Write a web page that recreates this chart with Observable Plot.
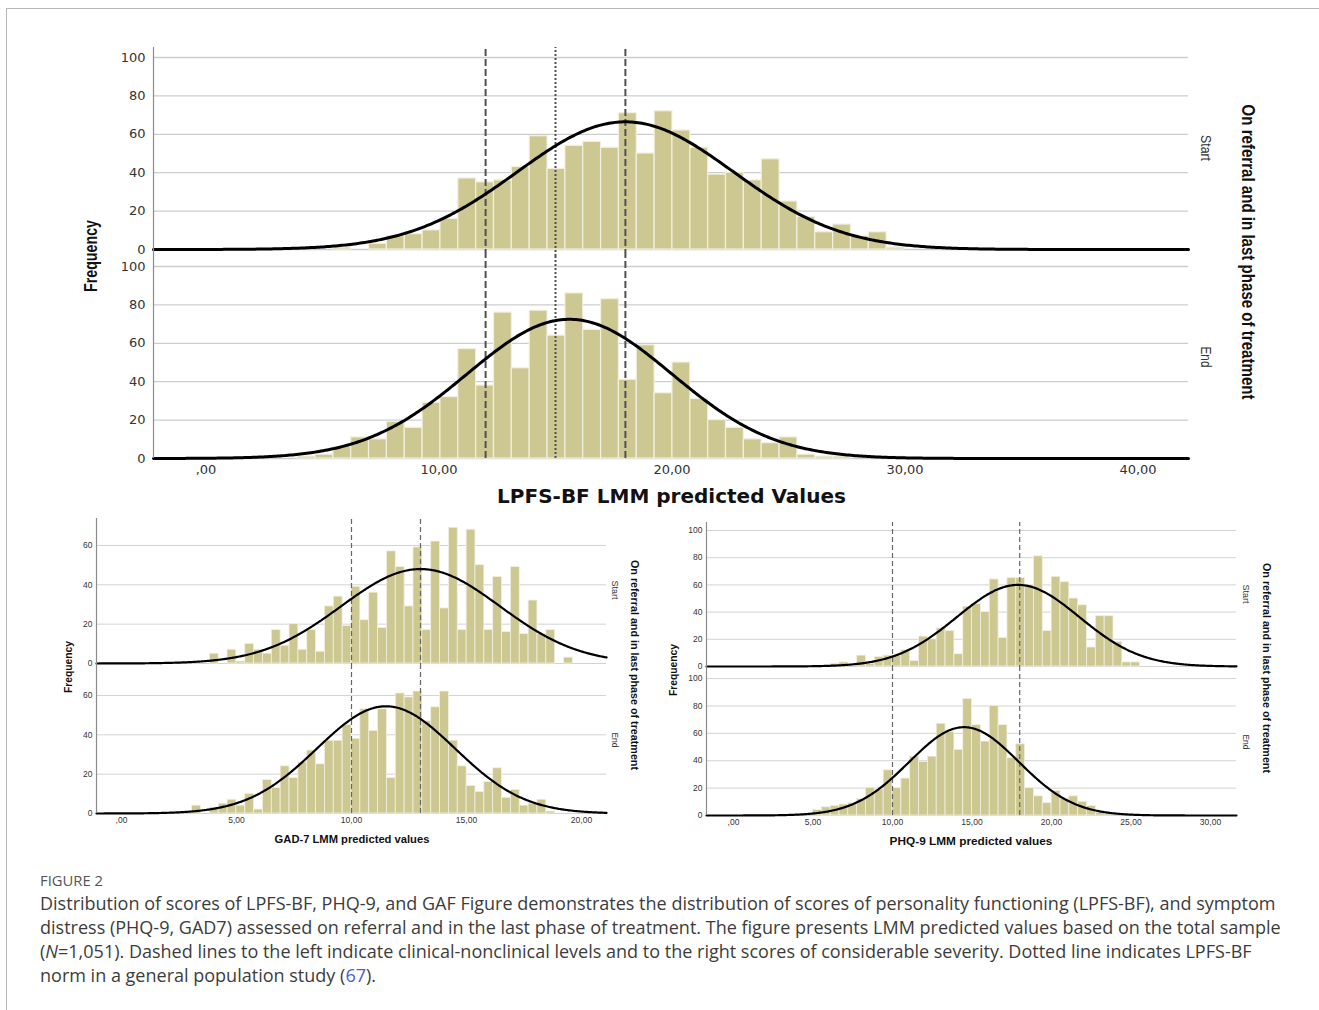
<!DOCTYPE html>
<html>
<head>
<meta charset="utf-8">
<script src="https://cdn.jsdelivr.net/npm/d3@7"></script>
<script src="https://cdn.jsdelivr.net/npm/@observablehq/plot@0.6"></script>
<style>
  body { margin: 0; background: #fff; }
  #root { position: relative; width: 1319px; height: 1010px; overflow: hidden; background: #fff; }
  .frame-top { position: absolute; left: 6px; top: 8px; right: 0; height: 0; border-top: 1px solid #b8b8b8; }
  .frame-left { position: absolute; left: 6px; top: 8px; bottom: 0; width: 0; border-left: 1px solid #b8b8b8; }
  .lbl { position: absolute; white-space: nowrap; line-height: 1; }
  .cap { position: absolute; white-space: nowrap; line-height: 1; }
</style>
</head>
<body>
<div id="root"><div class="frame-top"></div><div class="frame-left"></div></div>
<script>
// ---------------- DATA ----------------
// LPFS-BF histogram (bin counts, equal-width bins)
const lpfsBinStart = 3.934, lpfsBinWidth = 0.766;
const lpfsStart = [0, 0, 1, 0, 3, 7, 8, 10, 16, 37, 35, 36, 43, 59, 42, 54, 56, 53, 71, 50, 72, 62, 53, 39, 40, 36, 47, 25, 17, 9, 13, 7, 9, 1];
const lpfsEnd   = [1, 2, 6, 11, 10, 19, 16, 29, 32, 57, 38, 76, 47, 77, 64, 86, 67, 83, 41, 59, 34, 50, 31, 20, 16, 10, 8, 11, 2, 1, 1, 0, 0, 1];
// GAD-7 histogram
const gadBinStart = 3.07, gadBinWidth = 0.385;
const gadStart = [0, 0, 5, 0, 7, 1, 10, 7, 5, 17, 9, 20, 7, 17, 6, 29, 34, 19, 39, 22, 36, 18, 57, 49, 29, 59, 17, 62, 28, 69, 17, 68, 50, 17, 44, 16, 49, 15, 32, 15, 17, 0, 3];
const gadEnd   = [4, 0, 3, 5, 7, 4, 10, 2, 17, 13, 24, 18, 26, 32, 25, 37, 37, 45, 38, 53, 42, 53, 18, 61, 59, 62, 47, 54, 62, 37, 24, 14, 11, 16, 23, 8, 12, 4, 5, 7, 1, 0, 0];
// PHQ-9 histogram
const phqBinStart = 4.44, phqBinWidth = 0.556;
const phqStart = [0, 0, 0, 2, 3, 0, 8, 2, 7, 8, 8, 12, 4, 22, 20, 28, 26, 9, 44, 46, 40, 64, 21, 65, 65, 60, 81, 26, 66, 62, 50, 45, 14, 37, 37, 18, 3, 3];
const phqEnd   = [0, 4, 6, 7, 8, 9, 12, 20, 19, 33, 20, 27, 43, 39, 43, 67, 61, 48, 85, 66, 54, 80, 66, 42, 52, 20, 14, 9, 18, 12, 14, 10, 7, 2, 1, 0, 0, 0];

// fitted normal curves (mean, sd, peak height)
const lpfsStartFit = {mean: 18.0, sd: 4.65, peak: 66.5};
const lpfsEndFit   = {mean: 15.6, sd: 4.4,  peak: 72.5};
const gadStartFit  = {mean: 13.0, sd: 3.45, peak: 48};
const gadEndFit    = {mean: 11.5, sd: 3.0,  peak: 54.5};
const phqStartFit  = {mean: 17.9, sd: 3.85, peak: 60};
const phqEndFit    = {mean: 14.5, sd: 3.45, peak: 64.5};

// reference lines
const lpfsCutoffs = [12, 18];
const lpfsNorm = [15];
const gadCutoffs = [10, 13];
const phqCutoffs = [10, 18];

// ticks
const lpfsXTicks = [0, 10, 20, 30, 40];
const gadXTicks = [0, 5, 10, 15, 20];
const phqXTicks = [0, 5, 10, 15, 20, 25, 30];
const lpfsYTicks = [0, 20, 40, 60, 80, 100];
const gadYTicks = [0, 20, 40, 60];
const phqYTicks = [0, 20, 40, 60, 80, 100];

// texts
const facetLabels = ["Start", "End"];
const rowTitle = "On referral and in last phase of treatment";
const yTitle = "Frequency";
const lpfsXTitle = "LPFS-BF LMM predicted Values";
const gadXTitle = "GAD-7 LMM predicted values";
const phqXTitle = "PHQ-9 LMM predicted values";

// ---------------- DRAWING ----------------
const root = document.getElementById("root");
const W = 1319;
const BAR_FILL = "#cdc891";
const fmt = d => d.toFixed(2).replace(".", ",").replace(/^0,/, ",");

function histPanel(cfg) {
  const {x0, x1, plotLeft, plotRight, plotTop, plotBottom, ymax, yTicks, xTicks, showX,
         binStart, binWidth, counts, fit, dashed, dotted, st, ext} = cfg;
  const mt = 6, mb = showX ? 34 : 6;
  const bins = counts.map((c, i) => ({x1: binStart + i * binWidth, x2: binStart + (i + 1) * binWidth, y: c}))
                     .filter(d => d.y > 0);
  const pts = d3.range(0, 501).map(i => {
    const x = x0 + (x1 - x0) * i / 500;
    return {x, y: fit.peak * Math.exp(-((x - fit.mean) ** 2) / (2 * fit.sd * fit.sd))};
  });
  const svg = Plot.plot({
    width: W,
    height: plotBottom - plotTop + mt + mb,
    marginLeft: plotLeft, marginRight: W - plotRight, marginTop: mt, marginBottom: mb,
    style: {background: "transparent", fontFamily: st.font, fontSize: st.tick + "px", color: "#333", overflow: "visible"},
    x: {domain: [x0, x1], ticks: xTicks, tickFormat: fmt, tickSize: 0, tickPadding: st.xPad, label: null, axis: showX ? "bottom" : null},
    y: {domain: [0, ymax], ticks: yTicks, tickSize: 0, tickPadding: st.yPad, label: null},
    marks: [
      Plot.ruleY(yTicks, {stroke: st.grid, strokeWidth: st.gridWidth}),
      Plot.rect(bins, {x1: "x1", x2: "x2", y1: 0, y2: "y", fill: BAR_FILL, stroke: "#f2f0e0", strokeWidth: st.barStroke}),
      Plot.ruleX(dashed, {y1: -ext, y2: ymax, stroke: st.dash, strokeWidth: st.dashWidth, strokeDasharray: st.dashArray}),
      dotted ? Plot.ruleX(dotted, {y1: -ext, y2: ymax, stroke: st.dash, strokeWidth: st.dashWidth, strokeDasharray: "2,2"}) : null,
      Plot.line(pts, {x: "x", y: "y", stroke: "#000", strokeWidth: st.curveWidth}),
      Plot.ruleX([x0], {y1: -ext, y2: ymax, stroke: "#8c8c8c", strokeWidth: 1.2})
    ]
  });
  svg.style.position = "absolute";
  svg.style.left = "0px";
  svg.style.top = (plotTop - mt) + "px";
  root.appendChild(svg);
}

const bigStyle = {font: "DejaVu Sans", tick: 13, xPad: 6, yPad: 8, grid: "#cdcdcd", gridWidth: 1.3,
                  dash: "#505050", dashWidth: 2, dashArray: "7,3", curveWidth: 3, barStroke: 1.2};
const smallStyle = {font: "Liberation Sans, Arial, sans-serif", tick: 8.5, xPad: 3, yPad: 4, grid: "#d3d3d3", gridWidth: 1,
                    dash: "#666", dashWidth: 1.2, dashArray: "5,3", curveWidth: 2.2, barStroke: 0.8};

// LPFS-BF
const lpfsX = {x0: -2.253, x1: 42.167, plotLeft: 153, plotRight: 1188};
histPanel({...lpfsX, plotTop: 47, plotBottom: 249, ymax: 105.2, yTicks: lpfsYTicks, xTicks: lpfsXTicks, showX: false,
  binStart: lpfsBinStart, binWidth: lpfsBinWidth, counts: lpfsStart, fit: lpfsStartFit, dashed: lpfsCutoffs, dotted: lpfsNorm, st: bigStyle, ext: 3.7});
histPanel({...lpfsX, plotTop: 256, plotBottom: 458, ymax: 105.2, yTicks: lpfsYTicks, xTicks: lpfsXTicks, showX: true,
  binStart: lpfsBinStart, binWidth: lpfsBinWidth, counts: lpfsEnd, fit: lpfsEndFit, dashed: lpfsCutoffs, dotted: lpfsNorm, st: bigStyle, ext: 0});

// GAD-7
const gadX = {x0: -1.087, x1: 21.087, plotLeft: 96, plotRight: 606};
histPanel({...gadX, plotTop: 518, plotBottom: 663, ymax: 73.7, yTicks: gadYTicks, xTicks: gadXTicks, showX: false,
  binStart: gadBinStart, binWidth: gadBinWidth, counts: gadStart, fit: gadStartFit, dashed: gadCutoffs, st: smallStyle, ext: 2.6});
histPanel({...gadX, plotTop: 668, plotBottom: 813, ymax: 73.7, yTicks: gadYTicks, xTicks: gadXTicks, showX: true,
  binStart: gadBinStart, binWidth: gadBinWidth, counts: gadEnd, fit: gadEndFit, dashed: gadCutoffs, st: smallStyle, ext: 0});

// PHQ-9
const phqX = {x0: -1.698, x1: 31.635, plotLeft: 706, plotRight: 1236};
histPanel({...phqX, plotTop: 522, plotBottom: 666, ymax: 105.9, yTicks: phqYTicks, xTicks: phqXTicks, showX: false,
  binStart: phqBinStart, binWidth: phqBinWidth, counts: phqStart, fit: phqStartFit, dashed: phqCutoffs, st: smallStyle, ext: 3});
histPanel({...phqX, plotTop: 670, plotBottom: 815, ymax: 105.9, yTicks: phqYTicks, xTicks: phqXTicks, showX: true,
  binStart: phqBinStart, binWidth: phqBinWidth, counts: phqEnd, fit: phqEndFit, dashed: phqCutoffs, st: smallStyle, ext: 0});

// ---------------- TEXT ----------------
const ctx = document.createElement("canvas").getContext("2d");
function textWidth(text, family, weight, size) {
  ctx.font = `normal ${weight} ${size}px ${family}`;
  return ctx.measureText(text).width;
}
function fitSize(text, family, weight, len) {
  return 100 * len / textWidth(text, family, weight, 100);
}
// size given: keep that font size and squeeze/stretch horizontally to len (condensed look)
function label(text, {x, y, len, size, family, weight = "normal", rotate = 0, color = "#111"}) {
  let fs, sx = 1;
  if (size) { fs = size; sx = len / textWidth(text, family, weight, size); }
  else fs = fitSize(text, family, weight, len);
  const d = document.createElement("div");
  d.className = "lbl";
  d.textContent = text;
  Object.assign(d.style, {left: x + "px", top: y + "px", fontFamily: family, fontWeight: weight,
    fontSize: fs + "px", color, transform: `translate(-50%,-50%) rotate(${rotate}deg) scaleX(${sx})`});
  root.appendChild(d);
}
const arial = '"Liberation Sans", Arial, sans-serif';

// LPFS labels (condensed look)
label(yTitle, {x: 90, y: 256, len: 72, size: 19, family: arial, weight: "bold", rotate: -90});
label(rowTitle, {x: 1248, y: 252, len: 295, size: 19, family: arial, weight: "bold", rotate: 90});
label(facetLabels[0], {x: 1206, y: 148, len: 26, size: 15, family: arial, rotate: 90, color: "#333"});
label(facetLabels[1], {x: 1206, y: 357, len: 21, size: 15, family: arial, rotate: 90, color: "#333"});
label(lpfsXTitle, {x: 671.5, y: 496, len: 349, family: '"DejaVu Sans", sans-serif', weight: "bold"});

// GAD labels
label(yTitle, {x: 69, y: 667, len: 52, size: 11.5, family: arial, weight: "bold", rotate: -90});
label(rowTitle, {x: 634, y: 665, len: 210, size: 11, family: arial, weight: "bold", rotate: 90});
label(facetLabels[0], {x: 614, y: 590, len: 19, size: 9, family: arial, rotate: 90, color: "#333"});
label(facetLabels[1], {x: 614, y: 740, len: 15, size: 9, family: arial, rotate: 90, color: "#333"});
label(gadXTitle, {x: 352, y: 840, len: 155, family: arial, weight: "bold"});

// PHQ labels
label(yTitle, {x: 674, y: 670, len: 52, size: 11.5, family: arial, weight: "bold", rotate: -90});
label(rowTitle, {x: 1266, y: 668, len: 210, size: 11, family: arial, weight: "bold", rotate: 90});
label(facetLabels[0], {x: 1245, y: 594, len: 19, size: 9, family: arial, rotate: 90, color: "#333"});
label(facetLabels[1], {x: 1245, y: 742, len: 15, size: 9, family: arial, rotate: 90, color: "#333"});
label(phqXTitle, {x: 971, y: 842, len: 163, family: arial, weight: "bold"});

// ---------------- CAPTION ----------------
const capFamily = '"Open Sans", "Noto Sans", sans-serif';
const figLabel = "FIGURE 2";
const capLines = [
  "Distribution of scores of LPFS-BF, PHQ-9, and GAF Figure demonstrates the distribution of scores of personality functioning (LPFS-BF), and symptom",
  "distress (PHQ-9, GAD7) assessed on referral and in the last phase of treatment. The figure presents LMM predicted values based on the total sample",
  "(<i>N</i>=1,051). Dashed lines to the left indicate clinical-nonclinical levels and to the right scores of considerable severity. Dotted line indicates LPFS-BF",
  "norm in a general population study (<span style=\"color:#4f5bd5\">67</span>)."
];
const figFs = fitSize(figLabel, capFamily, "normal", 63);
const fl = document.createElement("div");
fl.className = "cap"; fl.textContent = figLabel;
Object.assign(fl.style, {left: "40px", top: (880 - figFs * 0.5) + "px", fontFamily: capFamily, fontSize: figFs + "px", color: "#555"});
root.appendChild(fl);
const capFs = fitSize(capLines[0], capFamily, "normal", 1236);
const capY = [903, 927, 951, 975];
capLines.forEach((t, i) => {
  const d = document.createElement("div");
  d.className = "cap"; d.innerHTML = t;
  Object.assign(d.style, {left: "40px", top: (capY[i] - capFs * 0.5) + "px", fontFamily: capFamily, fontSize: capFs + "px", color: "#3c3c3c"});
  root.appendChild(d);
});
</script>
</body>
</html>
